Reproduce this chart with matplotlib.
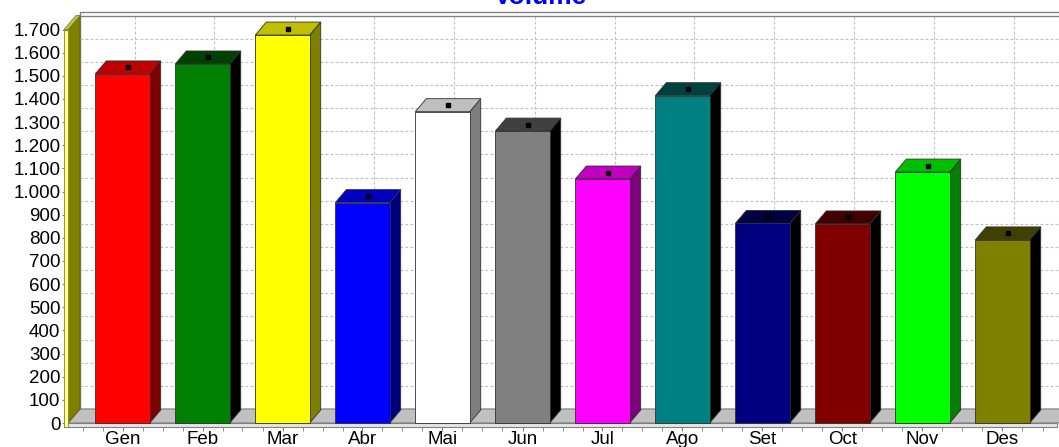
import matplotlib
matplotlib.use('Agg')
import matplotlib.pyplot as plt
from matplotlib.patches import Polygon, Rectangle
import numpy as np

plt.rcParams['font.family'] = ['Liberation Sans', 'DejaVu Sans']

# dati
months = ['Gen', 'Feb', 'Mar', 'Abr', 'Mai', 'Jun',
          'Jul', 'Ago', 'Set', 'Oct', 'Nov', 'Des']
volume = [1508, 1551, 1676, 952, 1345, 1261, 1054, 1414, 862, 860, 1084, 791]
bar_colors = ['#FF0000', '#008000', '#FFFF00', '#0000FF', '#FFFFFF', '#808080',
              '#FF00FF', '#008080', '#000080', '#800000', '#00FF00', '#808000']
y_ticks = list(range(0, 1800, 100))
title = 'Volume'


def darker(hexcol, amount):
    # come TeeChart: toglie una quantita fissa a ogni canale
    rgb = [int(hexcol[i:i + 2], 16) for i in (1, 3, 5)]
    return tuple(max(c - amount, 0) / 255. for c in rgb)


W, H = 1059, 447
fig = plt.figure(figsize=(W / 100., H / 100.), dpi=100)
# piano frontale: 0 -> y=423 px, 1700 -> y=29.5 px, categorie ogni 80 px
x_left, x_zero_px = 68., 122.5
ax = fig.add_axes([x_left / W, (H - 423.) / H, (W - x_left) / W, (423. - 29.5) / H])
xmin = (x_left - x_zero_px) / 80.
xmax = (W - x_zero_px) / 80.
ax.set_xlim(xmin, xmax)
ax.set_ylim(0, 1700)
for s in ax.spines.values():
    s.set_visible(False)

ux = 80.                 # px per categoria
uy = 393.5 / 1700.       # px per unita
wdx, wdy = 12. / ux, 14. / uy     # profondita pareti
bdx, bdy = 11. / ux, 13. / uy     # profondita barre
top = 1700
right = (1057. - x_zero_px) / ux

# parete di fondo
ax.add_patch(Rectangle((xmin + wdx, wdy), xmax - xmin, top + 4. / uy,
                       facecolor='white', edgecolor='#808080', lw=1.0,
                       zorder=1, clip_on=False))
ax.plot([xmin + wdx, xmax + 1], [top + wdy] * 2, color='#808080', lw=1.0,
        zorder=1.2, clip_on=False)
for v in y_ticks[1:-1]:
    ax.plot([xmin + wdx, xmax + 1], [v + wdy] * 2, color='#bdbdbd', lw=0.8,
            ls=(0, (2.5, 2)), zorder=1.1, clip_on=False)
for i in range(len(months)):
    ax.plot([i + wdx] * 2, [wdy, top + wdy], color='#bdbdbd', lw=0.8,
            ls=(0, (2.5, 2)), zorder=1.1, clip_on=False)

# pavimento
ax.add_patch(Polygon([(xmin, 0), (xmin + wdx, wdy), (xmax + 1, wdy), (right, 0)],
                     facecolor='#c0c0c0', edgecolor='#808080', lw=0.8,
                     zorder=2, clip_on=False))
ax.add_patch(Rectangle((xmin - 4. / ux, -4. / uy), right - xmin + 4. / ux, 4. / uy,
                       facecolor='#e6e6e6', edgecolor='#808080', lw=0.8,
                       zorder=2.1, clip_on=False))

# parete sinistra
ax.add_patch(Polygon([(xmin, 0), (xmin + wdx, wdy), (xmin + wdx, top + wdy), (xmin, top)],
                     facecolor='#808000', edgecolor='#606000', lw=0.6,
                     zorder=2.2, clip_on=False))
ax.add_patch(Rectangle((xmin - 4. / ux, -4. / uy), 4. / ux, top + 4. / uy,
                       facecolor='#ffff80', edgecolor='#808040', lw=0.6,
                       zorder=3, clip_on=False))
ax.add_patch(Polygon([(xmin - 4. / ux, top), (xmin, top), (xmin + wdx, top + wdy),
                      (xmin + wdx - 4. / ux, top + wdy)],
                     facecolor='#c8c840', edgecolor='#808040', lw=0.6,
                     zorder=3, clip_on=False))

# barre 3D
hw = 27.2 / ux
for i, (v, c) in enumerate(zip(volume, bar_colors)):
    ec = '#303030'
    ax.add_patch(Polygon([(i + hw, 0), (i + hw + bdx, bdy), (i + hw + bdx, v + bdy), (i + hw, v)],
                         facecolor=darker(c, 128), edgecolor=ec, lw=0.6, zorder=4,
                         clip_on=False))
    ax.add_patch(Polygon([(i - hw, v), (i - hw + bdx, v + bdy), (i + hw + bdx, v + bdy), (i + hw, v)],
                         facecolor=darker(c, 64), edgecolor=ec, lw=0.6, zorder=4,
                         clip_on=False))
    ax.add_patch(Rectangle((i - hw, 0), 2 * hw, v, facecolor=c, edgecolor=ec,
                           lw=0.6, zorder=4.5, clip_on=False))
    ax.plot(i + bdx / 2., v + bdy / 2., 's', color='black', markersize=3,
            zorder=5, clip_on=False)

# assi
ax.set_yticks(y_ticks)
ax.set_yticklabels(['{:,}'.format(v).replace(',', '.') for v in y_ticks])
ax.tick_params(axis='y', length=4, color='#808080', pad=1.5, labelsize=13.5,
               labelcolor='black')
ax.set_xticks(range(len(months)))
ax.set_xticklabels(months)
ax.set_xticks(np.arange(-0.5, 11.75, 0.25), minor=True)
ax.tick_params(axis='x', which='both', length=5.5, color='#808080', pad=0.5,
               labelsize=13.5, labelcolor='black')

fig.text(540. / W, 1 - 4. / H, title, ha='center', va='baseline',
         fontsize=19, fontweight='bold', color='#0000ff')

fig.savefig('out.png', dpi=100)
